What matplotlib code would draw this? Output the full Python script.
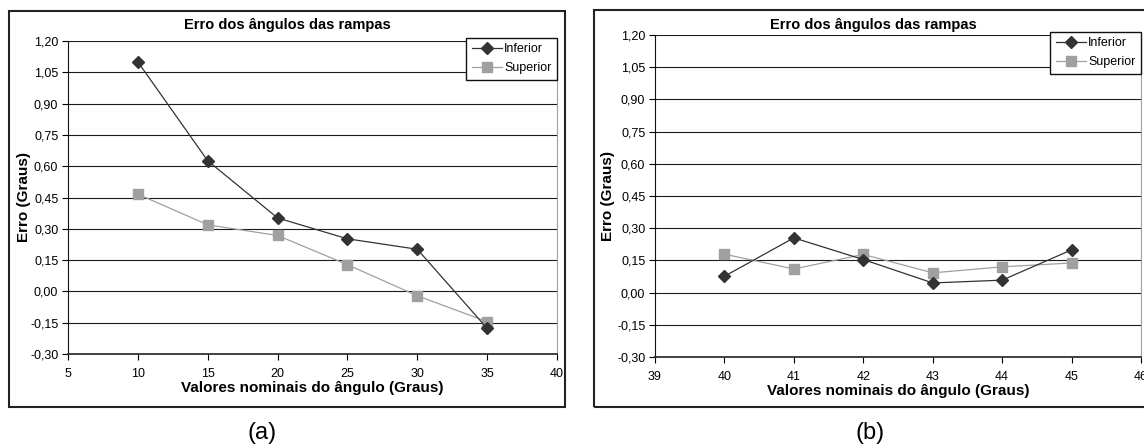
import matplotlib
matplotlib.use("Agg")
import matplotlib.pyplot as plt
from matplotlib.patches import Rectangle
import numpy as np

plt.rcParams['font.family'] = ['Liberation Sans', 'DejaVu Sans']

# dados (a)
ang_a = [10, 15, 20, 25, 30, 35]
inf_a = [1.10, 0.626, 0.352, 0.252, 0.202, -0.177]
sup_a = [0.466, 0.319, 0.268, 0.128, -0.021, -0.145]

# dados (b)
ang_b = [40, 41, 42, 43, 44, 45]
inf_b = [0.076, 0.255, 0.154, 0.045, 0.058, 0.199]
sup_b = [0.179, 0.110, 0.178, 0.092, 0.120, 0.138]

yticks = [-0.30, -0.15, 0.00, 0.15, 0.30, 0.45, 0.60, 0.75, 0.90, 1.05, 1.20]

W, H = 1144, 447
fig = plt.figure(figsize=(W / 100, H / 100), dpi=100)


def px(x0, y0, x1, y1):
    # pixel box -> figure fraction [left, bottom, width, height]
    return [x0 / W, 1 - y1 / H, (x1 - x0) / W, (y1 - y0) / H]


def painel(rect, frame, x, inf, sup, xlim, xticks, letra, letra_x, ylab_x):
    fig.add_artist(Rectangle((frame[0] / W, 1 - frame[3] / H),
                             (frame[2] - frame[0]) / W, (frame[3] - frame[1]) / H,
                             transform=fig.transFigure, fill=False,
                             edgecolor='#222222', linewidth=1.5))
    ax = fig.add_axes(px(*rect))
    for yv in yticks:
        ax.axhline(yv, color='#1a1a1a', lw=0.8, zorder=1)
    ax.plot(x, inf, color='#333333', lw=0.9, marker='D', ms=6.5,
            mfc='#333333', mec='#333333', label='Inferior', zorder=3)
    ax.plot(x, sup, color='#a0a0a0', lw=0.9, marker='s', ms=7,
            mfc='#a0a0a0', mec='#a0a0a0', label='Superior', zorder=2)
    ax.set_xlim(*xlim)
    ax.set_ylim(-0.30, 1.20)
    ax.set_xticks(xticks)
    ax.set_yticks(yticks)
    ax.set_yticklabels(['{:.2f}'.format(v).replace('.', ',') for v in yticks])
    ax.tick_params(labelsize=9, direction='out', length=4, width=0.8, pad=3)
    ax.tick_params(axis='x', pad=6)
    ax.spines['top'].set_visible(False)
    ax.spines['right'].set_color('#a0a0a0')
    ax.spines['left'].set_color('#111111')
    ax.spines['bottom'].set_color('#333333')
    ax.spines['bottom'].set_linewidth(1.3)
    ax.set_xlabel('Valores nominais do ângulo (Graus)', fontsize=11,
                  fontweight='bold', labelpad=1)
    ax.set_ylabel('Erro (Graus)', fontsize=11, fontweight='bold')
    ax.yaxis.set_label_coords((ylab_x - rect[0]) / (rect[2] - rect[0]), 0.5)
    leg = ax.legend(loc='upper right', bbox_to_anchor=(1.0, 1.01),
                    borderaxespad=0, fancybox=False, framealpha=1,
                    edgecolor='#111111', fontsize=9, handlelength=2.4,
                    handletextpad=0.2, borderpad=0.45, labelspacing=0.55)
    leg.get_frame().set_linewidth(1.0)
    cx = (frame[0] + frame[2]) / 2 / W
    fig.text(cx, 1 - 25 / H, 'Erro dos ângulos das rampas', ha='center',
             va='center', fontsize=10.5, fontweight='bold')
    fig.text(letra_x / W, 1 - 433 / H, letra, ha='center', va='center',
             fontsize=17)
    return ax


painel((68, 41, 557, 354), (9, 11, 565, 407), ang_a, inf_a, sup_a,
       (5, 40), [5, 10, 15, 20, 25, 30, 35, 40], '(a)', 262, 31)
painel((655, 35, 1141, 357), (594, 10, 1152, 407), ang_b, inf_b, sup_b,
       (39, 46), [39, 40, 41, 42, 43, 44, 45, 46], '(b)', 870, 615)

fig.savefig('out.png', dpi=100)
